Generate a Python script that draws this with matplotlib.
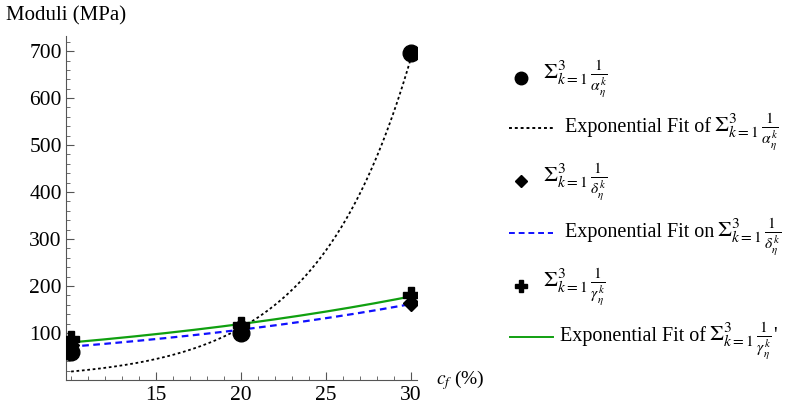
import numpy as np
import matplotlib.pyplot as plt
from matplotlib.lines import Line2D
from matplotlib.ticker import MultipleLocator, FixedLocator

plt.rcParams['font.family'] = ['Liberation Serif', 'DejaVu Serif']
plt.rcParams['mathtext.fontset'] = 'stix'

# fibre content (%) and moduli (MPa)
cf = [10, 20, 30]
inv_alpha = [60, 100, 695]
inv_delta = [75, 115, 163]
inv_gamma = [87, 118, 180]

# exponential fits  a * exp(b * cf)
fit_alpha = (2.92, 0.182)
fit_delta = (47.0, 0.0412)
fit_gamma = (53.6, 0.0400)

s_alpha = r'$\Sigma_{k=1}^{3}\,\frac{1}{\alpha_\eta^k}$'
s_delta = r'$\Sigma_{k=1}^{3}\,\frac{1}{\delta_\eta^k}$'
s_gamma = r'$\Sigma_{k=1}^{3}\,\frac{1}{\gamma_\eta^k}$'

fig = plt.figure(figsize=(7.86, 4.08), dpi=100)
ax = fig.add_axes([0.084, 0.0686, 0.4466, 0.843])

xx = np.linspace(10, 30, 200)
ax.plot(xx, fit_alpha[0] * np.exp(fit_alpha[1] * xx), color='black', ls=(0, (1.5, 1.5)), lw=1.3)
ax.plot(xx, fit_delta[0] * np.exp(fit_delta[1] * xx), color='#1010ff', ls=(0, (3, 2)), lw=1.6)
ax.plot(xx, fit_gamma[0] * np.exp(fit_gamma[1] * xx), color='#10a010', ls='-', lw=1.6)

ax.plot(cf, inv_delta, 'D', color='black', ms=8, zorder=5)
ax.plot(cf, inv_gamma, 'P', color='black', ms=12, zorder=5)
ax.plot(cf, inv_alpha, 'o', color='black', ms=12, zorder=6)

ax.set_xlim(9.7, 30.35)
ax.set_ylim(0, 732)
for side in ['top', 'right']:
    ax.spines[side].set_visible(False)
for side in ['left', 'bottom']:
    ax.spines[side].set_color('#555555')
ax.xaxis.set_major_locator(FixedLocator([15, 20, 25, 30]))
ax.xaxis.set_minor_locator(MultipleLocator(1))
ax.yaxis.set_major_locator(FixedLocator([100, 200, 300, 400, 500, 600, 700]))
ax.yaxis.set_minor_locator(MultipleLocator(20))
ax.tick_params(which='both', direction='in', color='#555555', labelsize=15.5)
ax.tick_params(which='major', length=6)
ax.tick_params(which='minor', length=3)
ax.tick_params(axis='y', pad=3)
ax.tick_params(axis='x', pad=4)

fig.text(0.008, 0.985, 'Moduli (MPa)', fontsize=15, va='top', ha='left')
fig.text(436 / 786, 0.068, r'$c_f$ (%)', fontsize=14, va='center', ha='left')

# legend drawn by hand at the right
W, H = 786, 408
MATH_SIZE = 16
TEXT_SIZE = 14.5

def legend_marker(y, marker, ms, math):
    fig.add_artist(Line2D([521 / W], [1 - y / H], marker=marker, color='black', ms=ms,
                          transform=fig.transFigure))
    return fig.text(543 / W, 1 - (y + 1) / H, math, fontsize=MATH_SIZE, va='center', ha='left')

def legend_line(y, x0, x1, tx, ls, color, label, math):
    fig.add_artist(Line2D([x0 / W, x1 / W], [1 - y / H, 1 - y / H], ls=ls, color=color,
                          lw=1.4, transform=fig.transFigure))
    base = 1 - (y + 4) / H
    t = fig.text(tx / W, base, label, fontsize=TEXT_SIZE, va='baseline', ha='left')
    return ax.annotate(math, xy=(1, base), xycoords=(t, 'figure fraction'),
                       xytext=(2, 0), textcoords='offset points',
                       fontsize=MATH_SIZE, va='baseline', ha='left', annotation_clip=False)

legend_marker(78, 'o', 9, s_alpha)
legend_line(128, 509, 553, 565, (0, (1.5, 1.5)), 'black', 'Exponential Fit of', s_alpha)
legend_marker(181, 'D', 6, s_delta)
legend_line(233, 509, 553, 565, (0, (3, 2)), '#1010ff', 'Exponential Fit on', s_delta)
legend_marker(286, 'P', 9, s_gamma)
g = legend_line(337, 510, 553, 560, '-', '#10a010', 'Exponential Fit of', s_gamma)
ax.annotate("'", xy=(1, 1 - 341 / H), xycoords=(g, 'figure fraction'),
            xytext=(1, 0), textcoords='offset points',
            fontsize=TEXT_SIZE, va='baseline', ha='left', annotation_clip=False)

fig.savefig('out.png', dpi=100)
